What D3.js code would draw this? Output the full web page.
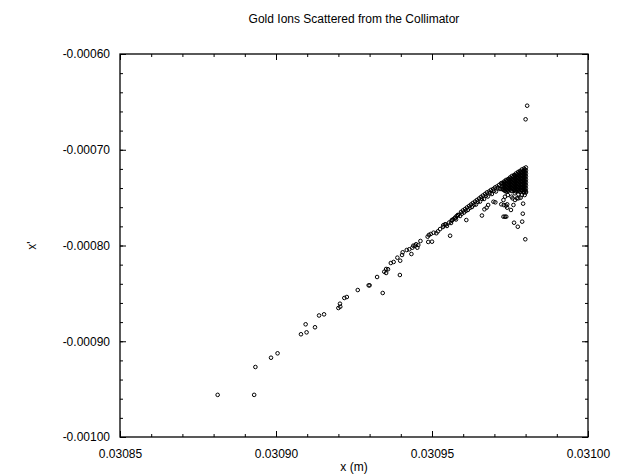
<!DOCTYPE html>
<html><head><meta charset="utf-8">
<script src="https://cdn.jsdelivr.net/npm/d3@7"></script>
<style>body{margin:0;background:#fff}svg{display:block}text{font-family:"Liberation Sans",Arial,sans-serif;fill:#000}</style>
</head><body><div id="chart"></div>
<script>
const chartTitle = "Gold Ions Scattered from the Collimator";
const xLabel = "x (m)";
const yLabel = "x'";
const xDomain = [0.03085, 0.03100];
const yDomain = [-0.00100, -0.00060];
const xTickValues = [0.03085, 0.03090, 0.03095, 0.03100];
const xTickLabels = ["0.03085", "0.03090", "0.03095", "0.03100"];
const yTickValues = [-0.00100, -0.00090, -0.00080, -0.00070, -0.00060];
const yTickLabels = ["-0.00100", "-0.00090", "-0.00080", "-0.00070", "-0.00060"];

// sparse ions along the tail
const tailPoints = [
  [0.0308813,-0.0009560],[0.0308930,-0.0009560],[0.0308934,-0.0009269],[0.0308984,-0.0009172],
  [0.0309005,-0.0009126],[0.0309080,-0.0008927],[0.0309095,-0.0008823],[0.0309098,-0.0008907],
  [0.0309125,-0.0008854],[0.0309138,-0.0008731],[0.0309154,-0.0008719],[0.0309200,-0.0008653],
  [0.0309206,-0.0008639],[0.0309205,-0.0008608],[0.0309219,-0.0008548],[0.0309227,-0.0008538],
  [0.0309262,-0.0008465],[0.0309297,-0.0008416],[0.0309300,-0.0008416],[0.0309342,-0.0008496],
  [0.0309324,-0.0008329],[0.0309347,-0.0008274],[0.0309353,-0.0008245],[0.0309359,-0.0008248],
  [0.0309353,-0.0008287],[0.0309397,-0.0008308],[0.0309368,-0.0008183],[0.0309377,-0.0008172],
  [0.0309389,-0.0008127],[0.0309398,-0.0008159],[0.0309404,-0.0008099],[0.0309406,-0.0008071],
  [0.0309419,-0.0008047],[0.0309434,-0.0008089],[0.0309427,-0.0008040],[0.0309437,-0.0008023],
  [0.0309446,-0.0008002],[0.0309449,-0.0007987],[0.0309440,-0.0008002],[0.0309456,-0.0007995],
  [0.0309453,-0.0008023],[0.0309463,-0.0007953],[0.0309488,-0.0007963],[0.0309500,-0.0007960],
  [0.0309486,-0.0007908],[0.0309490,-0.0007890],[0.0309496,-0.0007880],[0.0309505,-0.0007866],
  [0.0309514,-0.0007872],[0.0309519,-0.0007852],[0.0309536,-0.0007789],[0.0309542,-0.0007778],
  [0.0309563,-0.0007741],[0.0309568,-0.0007726],[0.0309574,-0.0007716],[0.0309579,-0.0007692],
  [0.0309584,-0.0007682],[0.0309558,-0.0007898],[0.0309610,-0.0007734]
];

// the narrow band leading into the cluster
const bandPoints = [
  [0.0309526,-0.0007828],[0.0309535,-0.0007807],[0.0309545,-0.0007781],[0.0309555,-0.0007760],
  [0.0309564,-0.0007734],[0.0309574,-0.0007708],[0.0309583,-0.0007681],[0.0309593,-0.0007650],
  [0.0309599,-0.0007634],[0.0309606,-0.0007619],[0.0309612,-0.0007603],[0.0309619,-0.0007587],
  [0.0309625,-0.0007572],[0.0309631,-0.0007556],[0.0309638,-0.0007541],[0.0309644,-0.0007525],
  [0.0309651,-0.0007509],[0.0309657,-0.0007493],[0.0309663,-0.0007478],[0.0309670,-0.0007462],
  [0.0309676,-0.0007446],[0.0309683,-0.0007436],[0.0309689,-0.0007420],[0.0309696,-0.0007410],
  [0.0309702,-0.0007394],[0.0309708,-0.0007384],[0.0309715,-0.0007368],[0.0309721,-0.0007352],
  [0.0309548,-0.0007796],[0.0309561,-0.0007765],[0.0309577,-0.0007728],[0.0309590,-0.0007692],
  [0.0309603,-0.0007655],[0.0309615,-0.0007629],[0.0309628,-0.0007598],[0.0309641,-0.0007572],
  [0.0309654,-0.0007541],[0.0309667,-0.0007514],[0.0309679,-0.0007488],[0.0309692,-0.0007462],
  [0.0309705,-0.0007436],[0.0309718,-0.0007410],
  [0.0309596,-0.0007668],[0.0309609,-0.0007637],[0.0309622,-0.0007606],[0.0309635,-0.0007574],
  [0.0309647,-0.0007543],[0.0309660,-0.0007512],[0.0309673,-0.0007480],[0.0309686,-0.0007454],
  [0.0309699,-0.0007428],[0.0309712,-0.0007402]
];

// dense cluster near the collimator edge: x, then x' values at that x
const clusterColumns = [
  [0.0309724,[-0.0007347,-0.0007379,-0.0007410]],
  [0.0309728,[-0.0007352,-0.0007384,-0.0007415]],
  [0.0309731,[-0.0007332,-0.0007358,-0.0007389,-0.0007420]],
  [0.0309734,[-0.0007337,-0.0007368,-0.0007399,-0.0007431]],
  [0.0309737,[-0.0007316,-0.0007347,-0.0007379,-0.0007410]],
  [0.0309740,[-0.0007326,-0.0007358,-0.0007389,-0.0007420]],
  [0.0309744,[-0.0007306,-0.0007337,-0.0007368,-0.0007399,-0.0007431]],
  [0.0309747,[-0.0007311,-0.0007342,-0.0007373,-0.0007405]],
  [0.0309750,[-0.0007290,-0.0007321,-0.0007352,-0.0007384,-0.0007415]],
  [0.0309753,[-0.0007300,-0.0007332,-0.0007363,-0.0007394,-0.0007425]],
  [0.0309756,[-0.0007274,-0.0007306,-0.0007337,-0.0007368,-0.0007399,-0.0007431]],
  [0.0309760,[-0.0007285,-0.0007316,-0.0007347,-0.0007379,-0.0007410]],
  [0.0309763,[-0.0007264,-0.0007295,-0.0007326,-0.0007358,-0.0007389,-0.0007420]],
  [0.0309766,[-0.0007269,-0.0007300,-0.0007332,-0.0007363,-0.0007394,-0.0007425]],
  [0.0309769,[-0.0007248,-0.0007279,-0.0007311,-0.0007342,-0.0007373,-0.0007405,-0.0007436]],
  [0.0309772,[-0.0007259,-0.0007290,-0.0007321,-0.0007352,-0.0007384,-0.0007415]],
  [0.0309776,[-0.0007232,-0.0007264,-0.0007295,-0.0007326,-0.0007358,-0.0007389,-0.0007420]],
  [0.0309779,[-0.0007243,-0.0007274,-0.0007306,-0.0007337,-0.0007368,-0.0007399,-0.0007431]],
  [0.0309782,[-0.0007222,-0.0007253,-0.0007285,-0.0007316,-0.0007347,-0.0007379,-0.0007410,-0.0007441]],
  [0.0309785,[-0.0007232,-0.0007264,-0.0007295,-0.0007326,-0.0007358,-0.0007389,-0.0007420]],
  [0.0309788,[-0.0007206,-0.0007238,-0.0007269,-0.0007300,-0.0007332,-0.0007363,-0.0007394,-0.0007425]],
  [0.0309792,[-0.0007222,-0.0007253,-0.0007285,-0.0007316,-0.0007347,-0.0007379,-0.0007410]],
  [0.0309795,[-0.0007196,-0.0007227,-0.0007259,-0.0007290,-0.0007321,-0.0007352,-0.0007384,-0.0007415,-0.0007446]],
  [0.0309798,[-0.0007206,-0.0007238,-0.0007269,-0.0007300,-0.0007332,-0.0007363,-0.0007394,-0.0007425]],
  [0.0309801,[-0.0007185,-0.0007217,-0.0007248,-0.0007279,-0.0007311,-0.0007342,-0.0007373,-0.0007405,-0.0007436]]
];

// scattered ions below the cluster, plus the two high outliers
const scatterPoints = [
  [0.0309739,-0.0007438],[0.0309766,-0.0007455],[0.0309777,-0.0007465],[0.0309785,-0.0007420],
  [0.0309795,-0.0007438],[0.0309729,-0.0007525],[0.0309734,-0.0007490],[0.0309755,-0.0007490],
  [0.0309777,-0.0007507],[0.0309784,-0.0007501],[0.0309788,-0.0007473],[0.0309797,-0.0007473],
  [0.0309801,-0.0007446],[0.0309743,-0.0007473],
  [0.0309660,-0.0007687],[0.0309668,-0.0007622],[0.0309675,-0.0007605],[0.0309680,-0.0007577],
  [0.0309697,-0.0007543],[0.0309703,-0.0007549],[0.0309722,-0.0007570],[0.0309729,-0.0007699],
  [0.0309741,-0.0007570],[0.0309741,-0.0007605],[0.0309734,-0.0007699],[0.0309738,-0.0007699],
  [0.0309753,-0.0007629],[0.0309763,-0.0007762],[0.0309775,-0.0007804],[0.0309789,-0.0007751],
  [0.0309791,-0.0007668],[0.0309792,-0.0007563],[0.0309799,-0.0007935],[0.0309730,-0.0007577],
  [0.0309737,-0.0007584],[0.0309761,-0.0007577],[0.0309766,-0.0007525],[0.0309772,-0.0007507],
  [0.0309758,-0.0007507],
  [0.0309805,-0.0006540],[0.0309800,-0.0006682]
];

const W = 621, H = 476;
const margin = {left:120, right:33, top:54, bottom:39};
const svg = d3.select("#chart").append("svg").attr("width", W).attr("height", H);
const x = d3.scaleLinear().domain(xDomain).range([margin.left, W - margin.right]);
const y = d3.scaleLinear().domain(yDomain).range([H - margin.bottom, margin.top]);

const allPoints = tailPoints.concat(bandPoints, scatterPoints,
  clusterColumns.flatMap(([cx, ys]) => ys.map(v => [cx, v])));

const x0 = x.range()[0], x1 = x.range()[1], y0 = y.range()[1], y1 = y.range()[0];
const minorX = d3.range(0, 16).map(i => xDomain[0] + i * 0.00001);
const minorY = d3.range(0, 21).map(i => yDomain[0] + i * 0.00002);

function styleAxis(g){ g.select(".domain").remove(); g.selectAll("line").attr("stroke","#000").attr("stroke-width",1); }

svg.append("g").attr("transform",`translate(0,${y1})`)
  .call(d3.axisBottom(x).tickValues(minorX).tickSize(-3).tickFormat(""))
  .call(styleAxis);
svg.append("g").attr("transform",`translate(0,${y1})`)
  .call(d3.axisBottom(x).tickValues(xTickValues).tickSize(-6).tickPadding(12)
    .tickFormat((d,i) => xTickLabels[i]))
  .call(styleAxis)
  .call(g => g.selectAll("text").attr("font-size", 12).attr("font-family","Liberation Sans, Arial, sans-serif"));
svg.append("g").attr("transform",`translate(0,${y0})`)
  .call(d3.axisTop(x).tickValues(minorX).tickSize(-3).tickFormat("")).call(styleAxis);
svg.append("g").attr("transform",`translate(0,${y0})`)
  .call(d3.axisTop(x).tickValues(xTickValues).tickSize(-6).tickFormat("")).call(styleAxis);

svg.append("g").attr("transform",`translate(${x0},0)`)
  .call(d3.axisLeft(y).tickValues(minorY).tickSize(-3).tickFormat("")).call(styleAxis);
svg.append("g").attr("transform",`translate(${x0},0)`)
  .call(d3.axisLeft(y).tickValues(yTickValues).tickSize(-6).tickPadding(10)
    .tickFormat((d,i) => yTickLabels[i]))
  .call(styleAxis)
  .call(g => g.selectAll("text").attr("font-size", 12).attr("font-family","Liberation Sans, Arial, sans-serif"));
svg.append("g").attr("transform",`translate(${x1},0)`)
  .call(d3.axisRight(y).tickValues(minorY).tickSize(-3).tickFormat("")).call(styleAxis);
svg.append("g").attr("transform",`translate(${x1},0)`)
  .call(d3.axisRight(y).tickValues(yTickValues).tickSize(-6).tickFormat("")).call(styleAxis);

svg.append("rect").attr("x", x0).attr("y", y0).attr("width", x1 - x0).attr("height", y1 - y0)
  .attr("fill","none").attr("stroke","#000").attr("stroke-width",1.3);

svg.append("g").selectAll("circle").data(allPoints).join("circle")
  .attr("cx", d => x(d[0])).attr("cy", d => y(d[1])).attr("r", 1.8)
  .attr("fill","none").attr("stroke","#000").attr("stroke-width",1);

svg.append("text").attr("x", (x0 + x1) / 2).attr("y", 23).attr("text-anchor","middle")
  .attr("font-size", 12).text(chartTitle);
svg.append("text").attr("x", (x0 + x1) / 2).attr("y", 471).attr("text-anchor","middle")
  .attr("font-size", 12).text(xLabel);
svg.append("text").attr("transform", `translate(36,${(y0 + y1) / 2}) rotate(-90)`)
  .attr("text-anchor","middle").attr("font-size", 12).text(yLabel);
</script></body></html>
